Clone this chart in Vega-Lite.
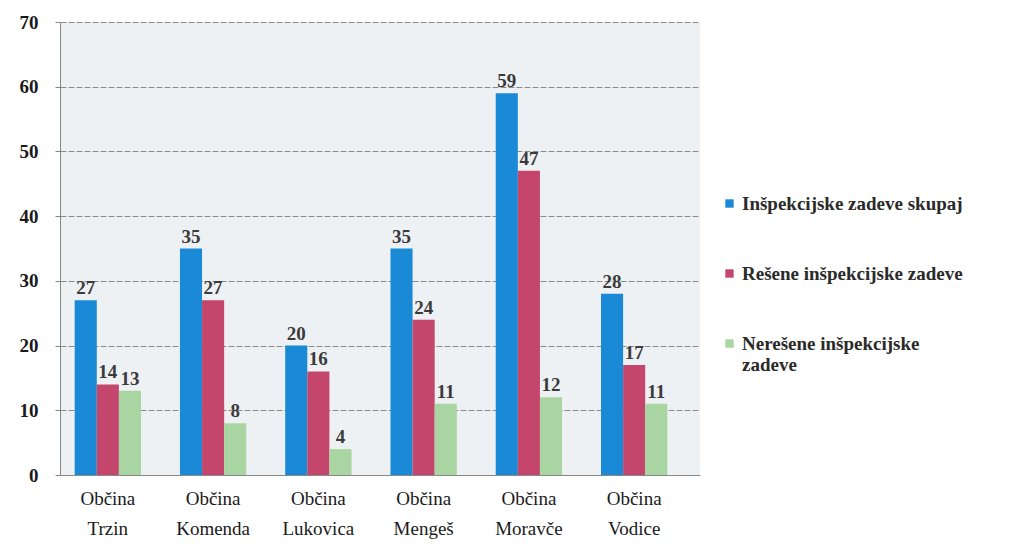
{
  "$schema": "https://vega.github.io/schema/vega-lite/v6.json",
  "autosize": "none",
  "width": 640,
  "height": 453,
  "padding": {"left": 60, "top": 22, "right": 318, "bottom": 71},
  "background": "white",
  "config": {
    "view": {"fill": "#eef1f4", "stroke": null},
    "font": "Liberation Serif"
  },
  "data": {
    "values": [
      {"obcina": "Trzin", "serija": "Inšpekcijske zadeve skupaj", "vrednost": 27},
      {"obcina": "Trzin", "serija": "Rešene inšpekcijske zadeve", "vrednost": 14},
      {"obcina": "Trzin", "serija": "Nerešene inšpekcijske zadeve", "vrednost": 13},
      {"obcina": "Komenda", "serija": "Inšpekcijske zadeve skupaj", "vrednost": 35},
      {"obcina": "Komenda", "serija": "Rešene inšpekcijske zadeve", "vrednost": 27},
      {"obcina": "Komenda", "serija": "Nerešene inšpekcijske zadeve", "vrednost": 8},
      {"obcina": "Lukovica", "serija": "Inšpekcijske zadeve skupaj", "vrednost": 20},
      {"obcina": "Lukovica", "serija": "Rešene inšpekcijske zadeve", "vrednost": 16},
      {"obcina": "Lukovica", "serija": "Nerešene inšpekcijske zadeve", "vrednost": 4},
      {"obcina": "Mengeš", "serija": "Inšpekcijske zadeve skupaj", "vrednost": 35},
      {"obcina": "Mengeš", "serija": "Rešene inšpekcijske zadeve", "vrednost": 24},
      {"obcina": "Mengeš", "serija": "Nerešene inšpekcijske zadeve", "vrednost": 11},
      {"obcina": "Moravče", "serija": "Inšpekcijske zadeve skupaj", "vrednost": 59},
      {"obcina": "Moravče", "serija": "Rešene inšpekcijske zadeve", "vrednost": 47},
      {"obcina": "Moravče", "serija": "Nerešene inšpekcijske zadeve", "vrednost": 12},
      {"obcina": "Vodice", "serija": "Inšpekcijske zadeve skupaj", "vrednost": 28},
      {"obcina": "Vodice", "serija": "Rešene inšpekcijske zadeve", "vrednost": 17},
      {"obcina": "Vodice", "serija": "Nerešene inšpekcijske zadeve", "vrednost": 11}
    ]
  },
  "encoding": {
    "x": {
      "field": "obcina",
      "type": "nominal",
      "sort": ["Trzin", "Komenda", "Lukovica", "Mengeš", "Moravče", "Vodice"],
      "scale": {"paddingInner": 0.37, "paddingOuter": 0.225, "align": 0.31},
      "axis": {
        "title": null,
        "labelAngle": 0,
        "labelExpr": "datum.value ? ['Občina', datum.value] : ''",
        "labelFont": "Liberation Serif",
        "labelFontSize": 19,
        "labelColor": "#1a1a1a",
        "labelLineHeight": 30,
        "labelPadding": 14,
        "domainColor": "#888888",
        "tickColor": "#888888",
        "ticks": false
      }
    },
    "y": {
      "field": "vrednost",
      "type": "quantitative",
      "scale": {"domain": [0, 70]},
      "axis": {
        "title": null,
        "values": [0, 10, 20, 30, 40, 50, 60, 70],
        "labelFont": "Liberation Serif",
        "labelFontSize": 19,
        "labelFontWeight": "bold",
        "labelColor": "#1a1a1a",
        "labelPadding": 17,
        "tickSize": 5,
        "tickColor": "#888888",
        "domainColor": "#888888",
        "grid": true,
        "gridColor": "#8a8a8a",
        "gridDash": [6, 2],
        "gridWidth": 1
      }
    },
    "xOffset": {
      "field": "serija",
      "type": "nominal",
      "sort": ["Inšpekcijske zadeve skupaj", "Rešene inšpekcijske zadeve", "Nerešene inšpekcijske zadeve"]
    }
  },
  "layer": [
    {
      "mark": {"type": "bar"},
      "encoding": {
        "color": {
          "field": "serija",
          "type": "nominal",
          "sort": ["Inšpekcijske zadeve skupaj", "Rešene inšpekcijske zadeve", "Nerešene inšpekcijske zadeve"],
          "scale": {
            "domain": ["Inšpekcijske zadeve skupaj", "Rešene inšpekcijske zadeve", "Nerešene inšpekcijske zadeve"],
            "range": ["#1a8ad6", "#c4466c", "#a8d5a2"]
          },
          "legend": {
            "title": null,
            "orient": "none",
            "legendX": 660,
            "legendY": 172,
            "symbolType": "square",
            "symbolSize": 70,
            "symbolStrokeWidth": 0,
            "labelFont": "Liberation Serif",
            "labelFontSize": 19,
            "labelFontWeight": "bold",
            "labelColor": "#2a2a2a",
            "labelLimit": 400,
            "labelOffset": 3,
            "labelLineHeight": 29,
            "rowPadding": 50,
            "labelExpr": "datum.label == 'Nerešene inšpekcijske zadeve' ? ['Nerešene inšpekcijske', 'zadeve'] : datum.label"
          }
        }
      }
    },
    {
      "mark": {
        "type": "text",
        "dy": -12,
        "font": "Liberation Serif",
        "fontSize": 19,
        "fontWeight": "bold",
        "color": "#3a3a3a"
      },
      "encoding": {
        "text": {"field": "vrednost", "type": "quantitative"}
      }
    }
  ]
}
